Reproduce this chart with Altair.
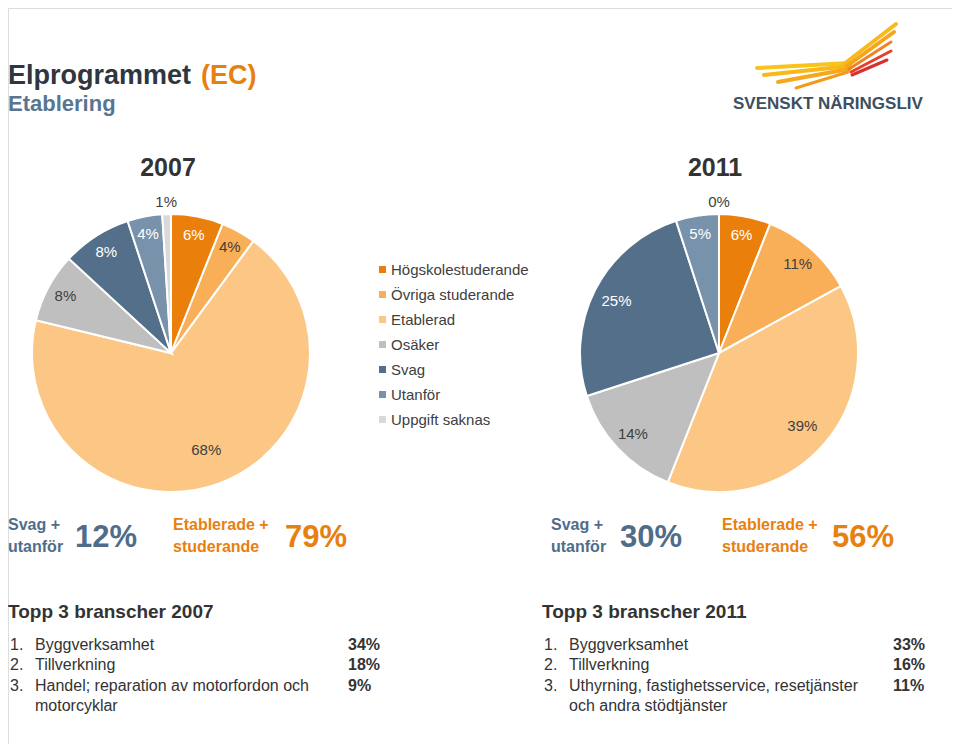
import altair as alt
import pandas as pd

# ---------------- data ----------------
categories = ["Högskolestuderande", "Övriga studerande", "Etablerad", "Osäker",
              "Svag", "Utanför", "Uppgift saknas"]
values_2007 = [6, 4, 68, 8, 8, 4, 1]
values_2011 = [6, 11, 39, 14, 25, 5, 0]
colors = ["#EB7F0C", "#F9AF57", "#FCC784", "#BFBFBF", "#546F8A", "#7892AC", "#D9D9D9"]
white_label_cats = ["Högskolestuderande", "Svag", "Utanför"]

summary_2007 = {"svag": "12%", "etab": "79%"}
summary_2011 = {"svag": "30%", "etab": "56%"}

top3_2007_names = ["Byggverksamhet", "Tillverkning", "Handel; reparation av motorfordon och", "motorcyklar"]
top3_2007_pct = ["34%", "18%", "9%"]
top3_2011_names = ["Byggverksamhet", "Tillverkning", "Uthyrning, fastighetsservice, resetjänster", "och andra stödtjänster"]
top3_2011_pct = ["33%", "16%", "11%"]

rows = []
for year, vals in (("2007", values_2007), ("2011", values_2011)):
    for i, (c, v) in enumerate(zip(categories, vals)):
        rows.append({"year": year, "cat": c, "v": v, "idx": i})
df = pd.DataFrame(rows)

FONT = "Liberation Sans"
DARK = "#333333"
TXT = "#404040"
SLATE = "#4F6D8A"
ORANGE = "#E8800F"
W, H = 944, 736
one = pd.DataFrame({"a": [0]})

color_scale = alt.Scale(domain=categories, range=colors)
legend = alt.Legend(title=None, orient="none", legendX=367, legendY=254,
                    symbolType="square", symbolSize=49, symbolStrokeWidth=0,
                    labelFont=FONT, labelFontSize=15, labelColor=TXT,
                    rowPadding=9, labelOffset=1, labelLimit=300)


def pie(year, cx, cy):
    base = alt.Chart(df).transform_filter(alt.datum.year == year)
    arc = base.mark_arc(outerRadius=139, stroke="white", strokeWidth=2).encode(
        theta=alt.Theta("v:Q", stack=True),
        order=alt.Order("idx:Q", sort="ascending"),
        color=alt.Color("cat:N", scale=color_scale, legend=legend, sort=categories),
        x=alt.value(cx), y=alt.value(cy),
    )
    lab = base.transform_window(
        cum="sum(v)", sort=[alt.SortField("idx")], frame=[None, 0]
    ).transform_joinaggregate(tot="sum(v)").transform_calculate(
        mid="(datum.cum - datum.v/2) / datum.tot * 2 * PI",
        lab="datum.v + '%'",
        rad="datum.v <= 1 ? 151 : 122 - 0.28 * datum.v",
        tc="indexof(" + str(white_label_cats) + ", datum.cat) >= 0 ? 'white' : '#404040'",
    )
    labels = lab.mark_text(
        fontSize=15, font=FONT, align="center", baseline="middle"
    ).encode(
        theta=alt.Theta("mid:Q", scale=None),
        radius=alt.Radius("rad:Q", scale=None),
        text="lab:N",
        fill=alt.Fill("tc:N", scale=None),
        x=alt.value(cx), y=alt.value(cy),
    )
    return [arc, labels]


def txt(s, x, y, size, color, weight="normal", align="left", baseline="middle"):
    return alt.Chart(one).mark_text(
        text=s, font=FONT, fontSize=size, color=color, fontWeight=weight,
        align=align, baseline=baseline
    ).encode(x=alt.value(x - 8), y=alt.value(y - 8))


def stroke(x1, y1, x2, y2, color, w):
    return alt.Chart(one).mark_rule(color=color, strokeWidth=w, strokeCap="round").encode(
        x=alt.value(x1 - 8), x2=alt.value(x2 - 8), y=alt.value(y1 - 8), y2=alt.value(y2 - 8)
    )


layers = []
layers += pie("2007", 171 - 8, 353 - 8)
layers += pie("2011", 719 - 8, 353 - 8)

# titles
layers.append(txt("Elprogrammet", 8, 84, 27, "#2E3640", "bold", baseline="alphabetic"))
layers.append(txt("(EC)", 201, 84, 27, ORANGE, "bold", baseline="alphabetic"))
layers.append(txt("Etablering", 8, 111, 22, "#5A7590", "bold", baseline="alphabetic"))
layers.append(txt("2007", 168, 168, 25, DARK, "bold", align="center"))
layers.append(txt("2011", 715, 168, 25, DARK, "bold", align="center"))

# logo
layers += [
    stroke(757, 68, 850, 63, "#F8C41C", 4),
    stroke(764, 75, 850, 66, "#F7B818", 4),
    stroke(778, 82, 849, 69, "#F5A81E", 4),
    stroke(796, 88, 848, 72, "#F29A1E", 3),
    stroke(844, 64, 896, 24, "#F7BA1A", 4),
    stroke(847, 66, 894, 32, "#F4A51C", 4),
    stroke(849, 69, 891, 42, "#EF8422", 3),
    stroke(851, 72, 891, 51, "#E4402A", 3),
    stroke(852, 75, 887, 60, "#D8302E", 3),
]
layers.append(txt("SVENSKT NÄRINGSLIV", 733, 104, 17, "#3D4F60", "bold"))

# summaries
for (x0, xn, xe, xen, summ) in ((8, 75, 173, 285, summary_2007), (551, 620, 722, 832, summary_2011)):
    layers.append(txt("Svag +", x0, 525, 16, SLATE, "bold"))
    layers.append(txt("utanför", x0, 547, 16, SLATE, "bold"))
    layers.append(txt(summ["svag"], xn, 538, 31, SLATE, "bold"))
    layers.append(txt("Etablerade +", xe, 525, 16, ORANGE, "bold"))
    layers.append(txt("studerande", xe, 547, 16, ORANGE, "bold"))
    layers.append(txt(summ["etab"], xen, 538, 31, ORANGE, "bold"))

# top 3 lists
for (x0, xp, head, names, pcts) in (
    (8, 348, "Topp 3 branscher 2007", top3_2007_names, top3_2007_pct),
    (542, 893, "Topp 3 branscher 2011", top3_2011_names, top3_2011_pct),
):
    layers.append(txt(head, x0, 612, 19, DARK, "bold"))
    ys = [645, 665, 686, 706]
    for i, name in enumerate(names):
        if i < 3:
            layers.append(txt(f"{i + 1}.", x0 + 2, ys[i], 16, DARK))
            layers.append(txt(pcts[i], xp, ys[i], 16, DARK, "bold"))
        layers.append(txt(name, x0 + 27, ys[i], 16, DARK))

chart = alt.layer(*layers).resolve_scale(theta="independent").properties(
    width=W, height=H, padding=0, autosize=alt.AutoSizeParams(type="none")
).configure_view(stroke=None).configure(background="white")

chart.save("out.html", embed_options={"renderer": "svg", "actions": False})
